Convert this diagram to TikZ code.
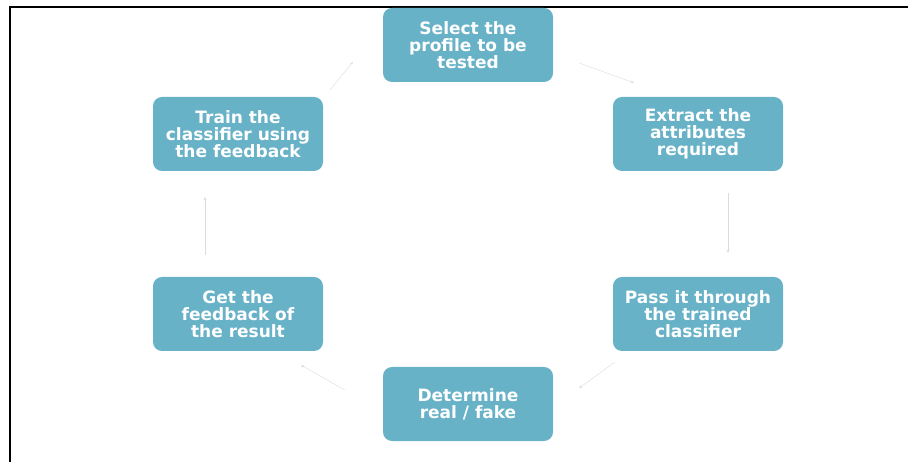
\documentclass[tikz,border=0pt]{standalone}
\usepackage{fontspec}
\setsansfont{DejaVu Sans}
\usepackage{xcolor}
\usepackage{tikz}
\usetikzlibrary{shapes.geometric, arrows}
\definecolor{boxblue}{RGB}{104,178,200}
\tikzstyle{stage} = [rectangle, 
rounded corners=9pt,
minimum width=170pt, 
minimum height=74pt,
inner sep=0pt,
text centered,
align=center,
fill=boxblue,
text=white,
font=\sffamily\bfseries\fontsize{17}{17}\selectfont]
\tikzstyle{arrow} = [thin,->,>=stealth,black!14]

\begin{document}
\begin{tikzpicture}[x=1pt,y=-1pt]
\useasboundingbox (0,0) rectangle (908,462);

% Cadre
\draw[line width=2pt] (10,462) -- (10,7) -- (908,7);

% Etapes du cycle
\node[stage] (select) at (468,45) {Select the\\profile to be\\tested};
\node[stage] (extract) at (698,134) {Extract the\\attributes\\required};
\node[stage] (pass) at (698,314) {Pass it through\\the trained\\classifier};
\node[stage] (determine) at (468,404) {Determine\\real / fake};
\node[stage] (getfb) at (238,314) {Get the\\feedback of\\the result};
\node[stage] (train) at (238,134) {Train the\\classifier using\\the feedback};

% Fleches
\draw[arrow] ([xshift=26pt,yshift=-18pt]select.east) -- ([xshift=21pt,yshift=14pt]extract.north west);
\draw[arrow] ([xshift=30pt,yshift=-22pt]extract.south) -- ([xshift=30pt,yshift=24pt]pass.north);
\draw[arrow] ([xshift=2pt,yshift=-11pt]pass.south west) -- ([xshift=26pt,yshift=16pt]determine.east);
\draw[arrow] ([xshift=-38pt,yshift=14pt]determine.west) -- ([xshift=-22pt,yshift=-14pt]getfb.south east);
\draw[arrow] ([xshift=-33pt,yshift=22pt]getfb.north) -- ([xshift=-33pt,yshift=-26pt]train.south);
\draw[arrow] ([xshift=7pt,yshift=7pt]train.north east) -- ([xshift=-30pt,yshift=-17pt]select.west);

\end{tikzpicture}
\end{document}
